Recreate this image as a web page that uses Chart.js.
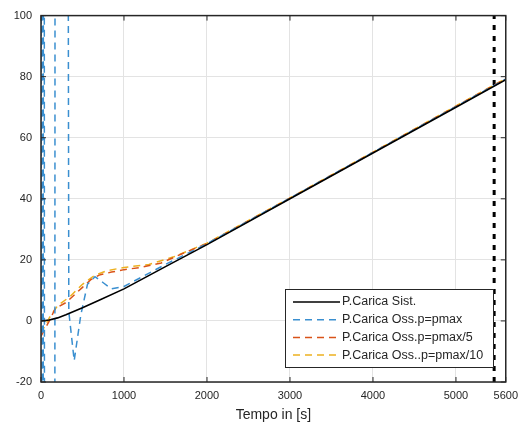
<!DOCTYPE html>
<html>
<head>
<meta charset="utf-8">
<script src="https://cdn.jsdelivr.net/npm/chart.js@4/dist/chart.umd.min.js"></script>
<style>
  html, body { margin: 0; padding: 0; background: #fff; }
  #wrap { width: 525px; height: 425px; }
</style>
</head>
<body>
<div id="wrap"><canvas id="caricaChart" width="525" height="425"></canvas></div>
<script>
// data
const sistTime  = [0, 100, 200, 300, 500, 700, 1000, 1500, 2000, 3000, 4000, 5000, 5600];
const sistValue = [0, 0.3, 1, 2, 4.3, 6.8, 10.5, 17.8, 25, 40, 55, 70, 79];

const pmaxTime  = [0, 6, 20, 34, 48, 160, 175, 300, 335, 400, 480, 560, 650, 750, 850, 1000, 1500, 2000, 3000, 4000, 5000, 5600];
const pmaxValue = [-5, 600, -600, 600, -600, -600, 600, 600, 3, -13, 2, 12, 14.5, 12.5, 10.5, 11.3, 18.5, 25.3, 40.2, 55.2, 70.2, 79.2];

const pmax5Time  = [0, 100, 170, 300, 420, 500, 600, 700, 850, 1000, 1200, 1450, 1700, 2000, 3000, 4000, 5000, 5600];
const pmax5Value = [-5, 0, 4, 6, 9, 11, 13.5, 15, 16, 16.8, 17.5, 19, 22, 25.3, 40.2, 55.2, 70.3, 79.3];

const pmax10Time  = [0, 100, 200, 350, 500, 650, 800, 1000, 1300, 1600, 2000, 3000, 4000, 5000, 5600];
const pmax10Value = [-4, 1, 5, 8, 12, 15, 16.5, 17.5, 18.5, 21, 25.5, 40.3, 55.3, 70.4, 79.4];

const endTime = 5460;
const xTicks = [0, 1000, 2000, 3000, 4000, 5000, 5600];
const yTicks = [-20, 0, 20, 40, 60, 80, 100];

const labels = ["P.Carica Sist.", "P.Carica Oss.p=pmax", "P.Carica Oss.p=pmax/5", "P.Carica Oss..p=pmax/10"];

const toPoints = (xs, ys) => xs.map((x, i) => ({x: x, y: ys[i]}));
const font = '"Liberation Sans", Arial, sans-serif';
const axisColor = "#262626";

// matlab-like box, inward ticks and legend inside the axes
const boxPlugin = {
    id: "boxPlugin",
    afterDraw(chart) {
        const ctx = chart.ctx;
        const a = chart.chartArea;
        const xs = chart.scales.x, ys = chart.scales.y;
        ctx.save();
        ctx.strokeStyle = axisColor;
        ctx.lineWidth = 1.5;
        ctx.setLineDash([]);
        ctx.strokeRect(a.left, a.top, a.right - a.left, a.bottom - a.top);
        ctx.lineWidth = 1;
        ctx.beginPath();
        xTicks.forEach(v => {
            const px = xs.getPixelForValue(v);
            ctx.moveTo(px, a.bottom); ctx.lineTo(px, a.bottom - 5);
            ctx.moveTo(px, a.top); ctx.lineTo(px, a.top + 5);
        });
        yTicks.forEach(v => {
            const py = ys.getPixelForValue(v);
            ctx.moveTo(a.left, py); ctx.lineTo(a.left + 5, py);
            ctx.moveTo(a.right, py); ctx.lineTo(a.right - 5, py);
        });
        ctx.stroke();

        // legend
        const lx = 285, ly = 289, lw = 208, lh = 78;
        ctx.fillStyle = "#fff";
        ctx.fillRect(lx, ly, lw, lh);
        ctx.strokeStyle = axisColor;
        ctx.lineWidth = 1;
        ctx.strokeRect(lx + 0.5, ly + 0.5, lw, lh);
        ctx.font = "12.5px " + font;
        ctx.textBaseline = "middle";
        for (let i = 0; i < 4; i++) {
            const ds = chart.data.datasets[i];
            const ry = ly + 13 + i * 17.7;
            ctx.strokeStyle = ds.borderColor;
            ctx.lineWidth = ds.borderWidth;
            ctx.setLineDash(ds.borderDash || []);
            ctx.beginPath();
            ctx.moveTo(lx + 8, ry); ctx.lineTo(lx + 55, ry);
            ctx.stroke();
            ctx.fillStyle = axisColor;
            ctx.fillText(ds.label, lx + 57, ry);
        }
        ctx.restore();
    }
};

const chartElement = document.getElementById("caricaChart");

new Chart(chartElement, {
    type: "line",
    data: {
        datasets: [
            {label: labels[0], data: toPoints(sistTime, sistValue), borderColor: "#000000", borderWidth: 1.6},
            {label: labels[1], data: toPoints(pmaxTime, pmaxValue), borderColor: "#3a8fd0", borderWidth: 1.5, borderDash: [7, 5]},
            {label: labels[2], data: toPoints(pmax5Time, pmax5Value), borderColor: "#D95319", borderWidth: 1.5, borderDash: [7, 5]},
            {label: labels[3], data: toPoints(pmax10Time, pmax10Value), borderColor: "#EDB120", borderWidth: 1.5, borderDash: [7, 5]},
            {label: "fine", data: [{x: endTime, y: -20}, {x: endTime, y: 100}], borderColor: "#000000", borderWidth: 3, borderDash: [5, 6]}
        ]
    },
    options: {
        responsive: false,
        animation: false,
        elements: {point: {radius: 0}, line: {tension: 0}},
        layout: {padding: {left: 0, top: 13, right: 15, bottom: 1}},
        plugins: {legend: {display: false}, tooltip: {enabled: false}},
        scales: {
            x: {
                type: "linear",
                min: 0, max: 5600,
                afterBuildTicks: s => { s.ticks = xTicks.map(v => ({value: v})); },
                afterFit: s => { s.height = 42; },
                grid: {color: "#e3e3e3", drawTicks: false},
                border: {display: false},
                ticks: {color: axisColor, padding: 7, maxRotation: 0, autoSkip: false, font: {family: font, size: 11},
                        callback: v => String(v)},
                title: {display: true, text: "Tempo in [s]", color: axisColor, padding: {top: 1, bottom: 0}, font: {family: font, size: 14}}
            },
            y: {
                min: -20, max: 100,
                afterBuildTicks: s => { s.ticks = yTicks.map(v => ({value: v})); },
                afterFit: s => { s.width = 41; },
                grid: {color: "#e3e3e3", drawTicks: false},
                border: {display: false},
                ticks: {color: axisColor, padding: 9, font: {family: font, size: 11}}
            }
        }
    },
    plugins: [boxPlugin]
});
</script>
</body>
</html>
